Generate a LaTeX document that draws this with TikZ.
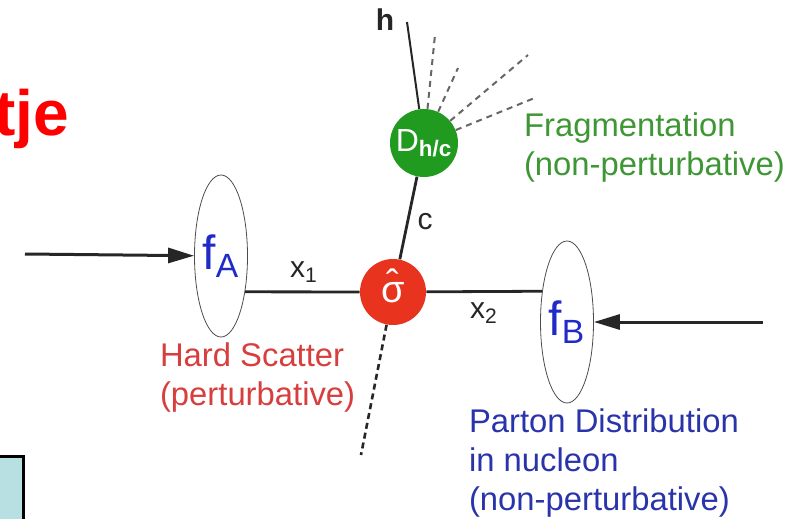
\documentclass[tikz,border=0pt]{standalone}
\usepackage{fontspec}
\setmainfont{Liberation Sans}
\usetikzlibrary{positioning,arrows.meta,shapes.geometric}
\definecolor{scatred}{RGB}{232,52,30}
\definecolor{fraggreen}{RGB}{32,155,32}
\definecolor{fragtext}{RGB}{62,150,52}
\definecolor{hardtext}{RGB}{215,62,62}
\definecolor{pdftext}{RGB}{42,52,170}
\definecolor{pdfblue}{RGB}{32,42,200}
\definecolor{boxcyan}{RGB}{184,224,226}
\newcommand{\sighat}{\ooalign{σ\cr\hidewidth\raisebox{0.15em}{ˆ}\hidewidth\cr}}

\begin{document}
\begin{tikzpicture}[x=0.5pt,y=-0.5pt,
  pdf/.style={ellipse,draw=black!70,thin,minimum width=26.5pt,minimum height=81pt,
              inner sep=0pt,text=pdfblue,font=\fontsize{24}{24}\selectfont},
  vertex/.style={circle,inner sep=0pt,text=white},
  lbl/.style={align=left,anchor=west,font=\fontsize{16.4}{19.5}\selectfont},
  kin/.style={text=black!85,font=\fontsize{15}{15}\selectfont},
  prop/.style={black!85,line width=1.4pt},
  beam/.style={-{Triangle[length=13pt,width=7.5pt]},black!85,line width=1.5pt},
  frag/.style={black!60,line width=1pt,dash pattern=on 3pt off 2.5pt}
]
\useasboundingbox (0,0) rectangle (792,519);

% left-over title and box from the slide
\node[text=red,anchor=base east,font=\fontsize{32}{32}\selectfont\bfseries] (title) at (76,135) {tje};
\draw[fill=boxcyan,line width=1.5pt] (-10,456) rectangle (23,540);

% parton densities
\node[pdf] (fa) at (221,256) {f\textsubscript{A}};
\node[pdf] (fb) at (567,322) {f\textsubscript{B}};

% hard scatter and fragmentation
\node[vertex,fill=scatred,minimum size=33pt,font=\fontsize{19}{19}\selectfont] (sig) at (393,292) {\sighat};
\node[vertex,fill=fraggreen,minimum size=34pt,font=\fontsize{16}{16}\selectfont] (dhc) at (424,143) {D\textsubscript{\bfseries h/c}};

\coordinate (beamA) at (25,254);
\coordinate (beamB) at (763,322);
\coordinate (hend) at (407,22);
\coordinate (jetend) at (361,455);

\draw[beam] (beamA) -- (fa);
\draw[beam] (beamB) -- (fb);
\draw[prop] (fa.-56) -- (sig);
\draw[prop] (sig) -- (fb.129);
\draw[prop] (sig) -- (dhc);
\draw[prop,line width=1pt] (dhc) -- (hend);
\draw[prop,line width=1.3pt,dash pattern=on 3pt off 2pt] (sig) -- (jetend);
\foreach \x/\y [count=\i] in {435/35,458/68,528/55,537/97} {
  \coordinate (spray\i) at (\x,\y);
  \draw[frag] (dhc) -- (spray\i);
}

% labels
\node[kin] (xone) at (304,272) {x\textsubscript{1}};
\node[kin] (xtwo) at (484,313) {x\textsubscript{2}};
\node[kin] (clbl) at (425,222) {c};
\node[kin,font=\fontsize{15}{15}\selectfont\bfseries] (hlbl) at (385,20) {h};
\node[lbl,text=fragtext] (fraglbl) at (517,148) {Fragmentation\\(non-perturbative)};
\node[lbl,text=hardtext] (hardlbl) at (153,378) {Hard Scatter\\(perturbative)};
\node[lbl,text=pdftext] (pdflbl) at (462,463) {Parton Distribution\\in nucleon\\(non-perturbative)};
\end{tikzpicture}
\end{document}
